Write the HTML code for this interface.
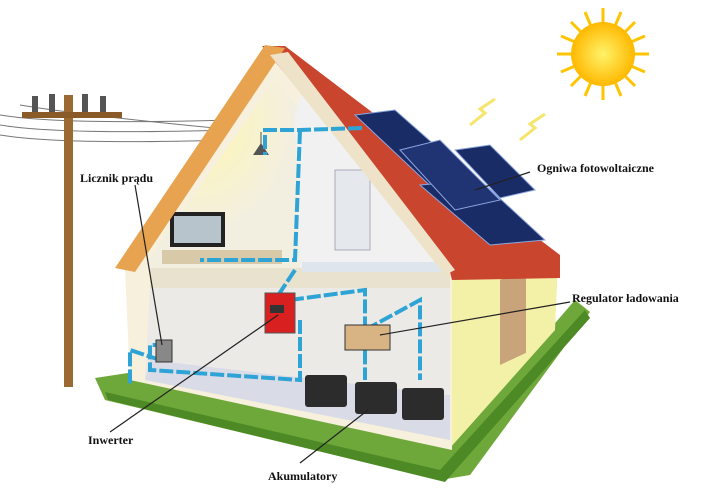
<!DOCTYPE html>
<html><head><meta charset="utf-8"><style>
html,body{margin:0;padding:0;background:#fff;}
svg{display:block}
text{font-family:"Liberation Serif",serif;font-weight:bold;font-size:12px;fill:#111}
</style></head><body>
<svg width="703" height="492" viewBox="0 0 703 492" xmlns="http://www.w3.org/2000/svg">
<defs>
<radialGradient id="sun" cx="50%" cy="50%" r="50%"><stop offset="0" stop-color="#fff36a"/><stop offset="1" stop-color="#ffb800"/></radialGradient>
<radialGradient id="light" cx="35%" cy="20%" r="60%"><stop offset="0" stop-color="#fff7b0"/><stop offset="1" stop-color="#f3efe0"/></radialGradient>
</defs>
<g stroke="#ffc400" stroke-width="3">
<line x1="603" y1="8" x2="603" y2="100"/><line x1="557" y1="54" x2="649" y2="54"/>
<line x1="571" y1="22" x2="635" y2="86"/><line x1="635" y1="22" x2="571" y2="86"/>
<line x1="585" y1="12" x2="621" y2="96"/><line x1="621" y1="12" x2="585" y2="96"/>
<line x1="561" y1="36" x2="645" y2="72"/><line x1="561" y1="72" x2="645" y2="36"/>
</g>
<circle cx="603" cy="54" r="32" fill="url(#sun)"/>
<path d="M470 125 l15 -12 l-5 -4 l15 -10" stroke="#f5e56a" stroke-width="3" fill="none"/>
<path d="M520 140 l15 -12 l-5 -4 l15 -10" stroke="#f5e56a" stroke-width="3" fill="none"/>
<polygon points="95,378 135,372 450,445 575,300 590,312 470,475 440,480 105,400" fill="#6fa83a"/>
<polygon points="105,392 440,470 585,310 590,318 445,482 108,400" fill="#4d8a25"/>
<g stroke="#777" stroke-width="1" fill="none">
<path d="M0 125 Q60 135 230 130"/><path d="M0 135 Q60 145 230 140"/><path d="M0 115 Q60 125 230 120"/><path d="M20 105 Q80 115 215 128"/>
</g>
<rect x="64" y="95" width="9" height="292" fill="#9b6a33"/>
<rect x="22" y="112" width="100" height="6" fill="#8a5a28"/>
<g fill="#555"><rect x="32" y="96" width="6" height="16"/><rect x="49" y="94" width="6" height="18"/><rect x="82" y="94" width="6" height="18"/><rect x="100" y="96" width="6" height="16"/></g>
<polygon points="452,272 558,262 555,330 450,448" fill="#f3f0a8"/>
<rect x="500" y="280" width="26" height="85" fill="#c9a37a" transform="skewY(-25)" transform-origin="500 280"/>
<polygon points="125,270 275,60 452,275 452,450 130,380" fill="#f6f0dc"/>
<polygon points="145,265 275,80 300,110 300,270 160,270" fill="url(#light)"/>
<polygon points="295,115 300,95 440,215 440,270 300,270" fill="#f1f1f1"/>
<rect x="335" y="170" width="35" height="80" fill="#e5e8ec" stroke="#aab"/>
<rect x="150" y="268" width="300" height="20" fill="#e9e2cf"/>
<polygon points="150,288 450,288 450,440 145,380" fill="#eceae6"/>
<polygon points="145,380 450,440 450,395 150,360" fill="#d9dce6"/>
<rect x="302" y="262" width="150" height="10" fill="#dfe5ec"/>
<rect x="170" y="212" width="55" height="35" fill="#222"/><rect x="174" y="216" width="47" height="27" fill="#b8c4cc"/>
<rect x="162" y="250" width="120" height="14" fill="#d8c9a8"/>
<path d="M253 155 l8 -12 l8 12z" fill="#555"/><line x1="261" y1="132" x2="261" y2="145" stroke="#555"/>
<polygon points="262,46 285,46 560,255 560,278 452,280 450,272" fill="#c9452e"/>
<polygon points="115,268 265,45 285,48 135,272" fill="#e7a350"/>
<polygon points="270,55 288,52 455,270 445,275" fill="#eee2c8"/>
<polygon points="355,115 395,110 480,185 440,195" fill="#1a2c66" stroke="#8da6e0"/>
<polygon points="420,185 480,180 545,240 490,245" fill="#1a2c66" stroke="#8da6e0"/>
<polygon points="400,150 440,140 500,200 455,210" fill="#203474" stroke="#8da6e0"/>
<polygon points="455,150 490,145 535,190 500,198" fill="#1a2c66" stroke="#8da6e0"/>
<g stroke="#2ea3d6" stroke-width="4" fill="none" stroke-dasharray="14 3">
<path d="M362 128 L300 130 L265 130 L265 155"/>
<path d="M300 130 L295 260 L200 260"/>
<path d="M295 270 L275 300"/>
<path d="M290 300 L365 290 L365 380"/>
<path d="M300 320 L300 380 L150 370 L150 345 L160 345"/>
<path d="M160 360 L130 350 L130 385"/>
<path d="M365 330 L420 300 L420 380"/>
</g>
<rect x="156" y="340" width="16" height="22" fill="#888" stroke="#333"/>
<rect x="265" y="293" width="30" height="40" fill="#d82020" stroke="#555"/>
<rect x="270" y="305" width="14" height="8" fill="#333"/>
<rect x="345" y="325" width="45" height="25" fill="#d8b484" stroke="#333"/>
<g fill="#2c2c2c"><rect x="305" y="375" width="42" height="32" rx="3"/><rect x="355" y="382" width="42" height="32" rx="3"/><rect x="402" y="388" width="42" height="32" rx="3"/></g>
<g stroke="#222" stroke-width="1.2">
<line x1="135" y1="185" x2="162" y2="345"/>
<line x1="530" y1="172" x2="475" y2="190"/>
<line x1="570" y1="302" x2="380" y2="335"/>
<line x1="110" y1="432" x2="278" y2="315"/>
<line x1="300" y1="463" x2="368" y2="410"/>
</g>
<text x="80" y="182">Licznik prądu</text>
<text x="537" y="172">Ogniwa fotowoltaiczne</text>
<text x="572" y="302">Regulator ładowania</text>
<text x="88" y="444">Inwerter</text>
<text x="268" y="480">Akumulatory</text>
</svg>
</body></html>
